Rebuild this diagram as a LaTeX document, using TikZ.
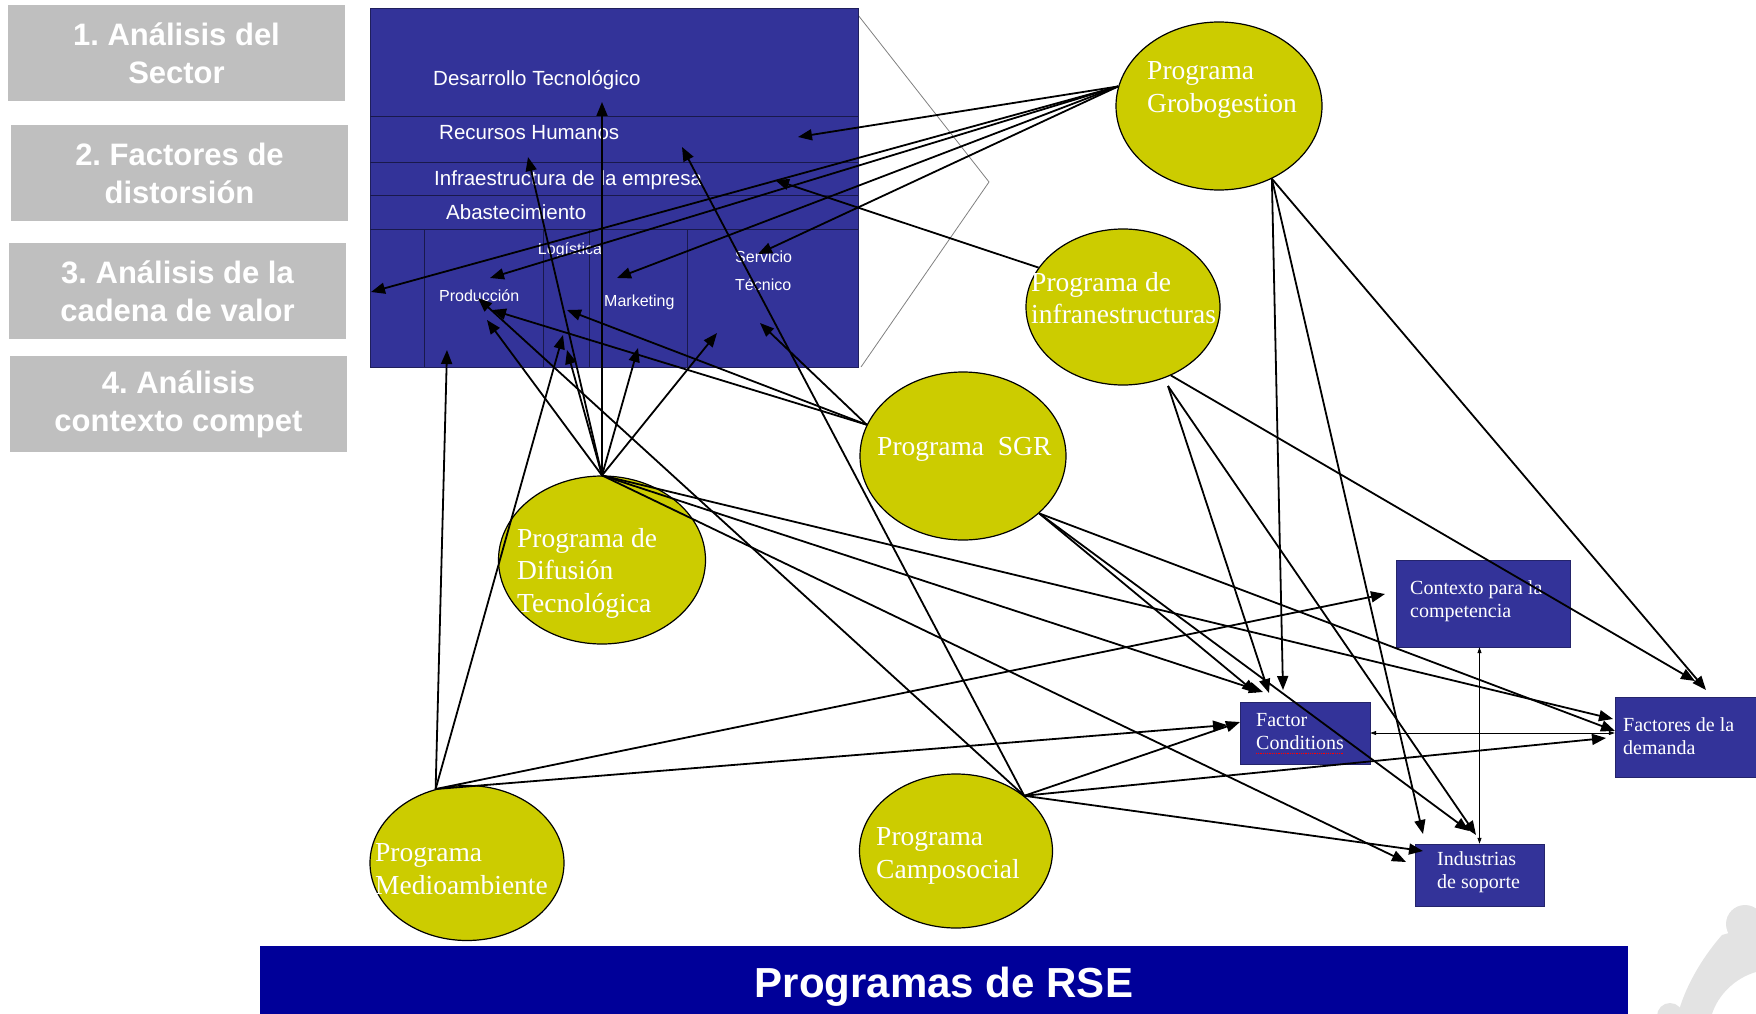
\documentclass[tikz,border=0pt]{standalone}
\usepackage{fontspec}
\setmainfont{Liberation Serif}
\setsansfont{Liberation Sans}
\usepackage{tikz}
\usetikzlibrary{shapes.geometric,arrows.meta}
\usepackage{xcolor}
\definecolor{cadenablue}{RGB}{51,51,153}
\definecolor{rseblue}{RGB}{0,0,153}
\definecolor{progyellow}{RGB}{204,204,0}
\definecolor{pasogray}{RGB}{191,191,191}
\definecolor{logogray}{RGB}{227,227,227}
\frenchspacing

\begin{document}
\begin{tikzpicture}[x=1pt,y=-1pt,
% styles
pasonode/.style={rectangle, fill=pasogray, minimum width=337pt, minimum height=96pt, inner sep=0pt, text=white, align=center, font=\sffamily\bfseries\fontsize{31}{38}\selectfont},
prognode/.style={ellipse, draw=black, fill=progyellow, line width=1.2pt, inner sep=0pt},
progtext/.style={anchor=west, inner sep=0pt, text=white, align=left, font=\fontsize{27.5}{32.5}\selectfont},
cadtext/.style={anchor=west, inner sep=0pt, text=white, font=\sffamily\fontsize{20.5}{24}\selectfont},
acttext/.style={anchor=west, inner sep=0pt, text=white, font=\sffamily\fontsize{16}{20}\selectfont},
factornode/.style={rectangle, draw=cadenablue!70!black, fill=cadenablue, inner sep=0pt},
factortext/.style={anchor=west, inner sep=0pt, text=white, align=left, font=\fontsize{20}{23}\selectfont},
arr/.style={-{Triangle[length=14pt,width=11pt]}, line width=1.8pt},
thinarr/.style={{Triangle[length=6pt,width=4pt]}-{Triangle[length=6pt,width=4pt]}, line width=0.8pt},
]
\useasboundingbox (0,0) rectangle (1756,1014);

% logo
\fill[logogray] (1745,924) circle (19);
\fill[logogray] (1722,935) .. controls (1700,960) and (1684,990) .. (1678,1014) -- (1712,1014) .. controls (1718,995) and (1735,978) .. (1756,972) -- (1756,925) -- cycle;
\fill[logogray] (1670,1016) circle (13);

% steps
\node[pasonode] (paso1) at (176.5,53) {1. Análisis del\\Sector};
\node[pasonode] (paso2) at (179.5,173) {2. Factores de\\distorsión};
\node[pasonode] (paso3) at (177.5,291) {3. Análisis de la\\cadena de valor};
\node[pasonode] (paso4) at (178.5,404) {4. Análisis\\contexto compet};

% value chain
\draw[gray, line width=0.8pt] (858,15) -- (989,182) -- (861,367);
\node[draw=cadenablue!60!black, fill=cadenablue, minimum width=488pt, minimum height=359pt, inner sep=0pt] (cadena) at (614,187.5) {};
\draw[cadenablue!50!black, line width=0.8pt] (370,116) -- (858,116);
\draw[cadenablue!50!black, line width=0.8pt] (370,162) -- (858,162);
\draw[cadenablue!50!black, line width=0.8pt] (370,195) -- (858,195);
\draw[cadenablue!50!black, line width=0.8pt] (370,229) -- (858,229);
\draw[cadenablue!50!black, line width=0.8pt] (424,229) -- (424,367);
\draw[cadenablue!50!black, line width=0.8pt] (543,229) -- (543,367);
\draw[cadenablue!50!black, line width=0.8pt] (589,229) -- (589,367);
\draw[cadenablue!50!black, line width=0.8pt] (687,229) -- (687,367);

\node[cadtext] (dt) at (433,80) {Desarrollo Tecnológico};
\node[cadtext] (rh) at (439,133) {Recursos Humanos};
\node[cadtext] (ie) at (434,180) {Infraestructura de la empresa};
\node[cadtext] (ab) at (446,212) {Abastecimiento};
\node[acttext, anchor=center] (lo) at (570,250) {Logística};
\node[acttext] (pr) at (439,296) {Producción};
\node[acttext] (mk) at (604,302) {Marketing};
\node[acttext] (sv) at (735,257) {Servicio};
\node[acttext] (tc) at (735,285) {Técnico};

% programs
\node[prognode, minimum width=206pt, minimum height=168pt] (grob) at (1219,106) {};
\node[prognode, minimum width=194pt, minimum height=156pt] (infra) at (1123,307) {};
\node[prognode, minimum width=206pt, minimum height=168pt] (sgr) at (963,456) {};
\node[prognode, minimum width=207pt, minimum height=168pt] (difu) at (602,560) {};
\node[prognode, minimum width=194pt, minimum height=155pt] (medio) at (467,863) {};
\node[prognode, minimum width=193pt, minimum height=154pt] (campo) at (956,851) {};

\node[progtext] (grob-t) at (1147,90) {Programa\\Grobogestion};
\node[progtext] (infra-t) at (1031,298) {Programa de\\infranestructuras};
\node[progtext] (sgr-t) at (877,449) {Programa\ \ SGR};
\node[progtext] (difu-t) at (517,573) {Programa de\\Difusión\\Tecnológica};
\node[progtext] (medio-t) at (375,869) {Programa\\Medioambiente};
\node[progtext] (campo-t) at (876,856) {Programa\\Camposocial};

% competitive context
\node[factornode, minimum width=174pt, minimum height=87pt] (ctx) at (1483,603.5) {};
\node[factornode, minimum width=130pt, minimum height=62pt] (fc) at (1305,733) {};
\node[factornode, minimum width=145pt, minimum height=80pt] (fd) at (1687.5,737) {};
\node[factornode, minimum width=129pt, minimum height=62pt] (ind) at (1479.5,875) {};
\node[factortext] (ctx-t) at (1410,601.5) {Contexto para la\\competencia};
\node[factortext] (fc-t) at (1256,731.5) {Factor\\Conditions};
\node[factortext] (fd-t) at (1623,736.5) {Factores de la\\demanda};
\node[factortext] (ind-t) at (1437,872.5) {Industrias\\de soporte};
\draw[red, densely dotted, line width=0.8pt] (1256,753) -- (1344,753);

% bottom bar
\node[fill=rseblue, minimum width=1368pt, minimum height=82pt, inner sep=0pt, text=white, font=\sffamily\bfseries\fontsize{42}{48}\selectfont] (rse) at (944,987) {Programas de RSE};

% arrow ends
\coordinate (dt-dif) at (602,102);
\coordinate (rh-gro) at (798,137);
\coordinate (rh-dif) at (528,157);
\coordinate (rh-cam) at (682,147);
\coordinate (ie-inf) at (775,180);
\coordinate (left-gro) at (371,292);
\coordinate (pr-gro) at (490,278);
\coordinate (pr-sgr) at (492,310);
\coordinate (pr-dif) at (487,320);
\coordinate (pr-cam) at (478,298);
\coordinate (pr-med) at (447,350);
\coordinate (lo-sgr) at (567,310);
\coordinate (lo-dif) at (567,350);
\coordinate (lo-med) at (563,335);
\coordinate (mk-gro) at (617,278);
\coordinate (mk-dif) at (638,348);
\coordinate (sv-gro) at (758,254);
\coordinate (sv-sgr) at (760,323);
\coordinate (sv-dif) at (717,333);

\coordinate (fc-med) at (1227,725);
\coordinate (fc-cam) at (1240,722);
\coordinate (fc-sgr) at (1256,693);
\coordinate (fc-dif) at (1263,692);
\coordinate (fc-inf) at (1269,693);
\coordinate (fc-gro) at (1283,690);
\coordinate (ind-dif) at (1406,862);
\coordinate (ind-cam) at (1423,851);
\coordinate (ind-gro) at (1423,834);
\coordinate (ind-sgr) at (1469,831);
\coordinate (ind-inf) at (1476,835);
\coordinate (fd-gro) at (1706,690);
\coordinate (fd-inf) at (1695,681);
\coordinate (fd-dif) at (1613,719);
\coordinate (fd-sgr) at (1615,731);
\coordinate (fd-cam) at (1606,738);
\coordinate (ctx-med) at (1385,594);
\coordinate (infra-out) at (1168,386);

% Grobogestion
\draw[arr] (grob.169) -- (rh-gro);
\draw[arr] (grob.169) -- (left-gro);
\draw[arr] (grob.169) -- (pr-gro);
\draw[arr] (grob.169) -- (mk-gro);
\draw[arr] (grob.169) -- (sv-gro);
\draw[arr] (grob.306) -- (fc-gro);
\draw[arr] (grob.306) -- (ind-gro);
\draw[arr] (grob.306) -- (fd-gro);

% infraestructuras
\draw[arr] (infra.155) -- (ie-inf);
\draw[arr] (infra.305) -- (fd-inf);
\draw[arr] (infra-out) -- (fc-inf);
\draw[arr] (infra-out) -- (ind-inf);

% SGR
\draw[arr] (sgr.162) -- (pr-sgr);
\draw[arr] (sgr.162) -- (lo-sgr);
\draw[arr] (sgr.162) -- (sv-sgr);
\draw[arr] (sgr.323) -- (fc-sgr);
\draw[arr] (sgr.323) -- (ind-sgr);
\draw[arr] (sgr.323) -- (fd-sgr);

% Difusion
\draw[arr] (difu.north) -- (rh-dif);
\draw[arr] (difu.north) -- (dt-dif);
\draw[arr] (difu.north) -- (pr-dif);
\draw[arr] (difu.north) -- (lo-dif);
\draw[arr] (difu.north) -- (mk-dif);
\draw[arr] (difu.north) -- (sv-dif);
\draw[arr] (difu.north) -- (fc-dif);
\draw[arr] (difu.north) -- (ind-dif);
\draw[arr] (difu.north) -- (fd-dif);

% Medioambiente
\draw[arr] (medio.113) -- (pr-med);
\draw[arr] (medio.113) -- (lo-med);
\draw[arr] (medio.113) -- (ctx-med);
\draw[arr] (medio.113) -- (fc-med);

% Camposocial
\draw[arr] (campo.39) -- (pr-cam);
\draw[arr] (campo.39) -- (rh-cam);
\draw[arr] (campo.39) -- (fc-cam);
\draw[arr] (campo.39) -- (ind-cam);
\draw[arr] (campo.39) -- (fd-cam);

% between boxes
\draw[thinarr] (fc.east) -- (fc.east -| fd.west);
\draw[thinarr] (ctx.south -| ind.north) -- (ind.north);

\end{tikzpicture}
\end{document}
